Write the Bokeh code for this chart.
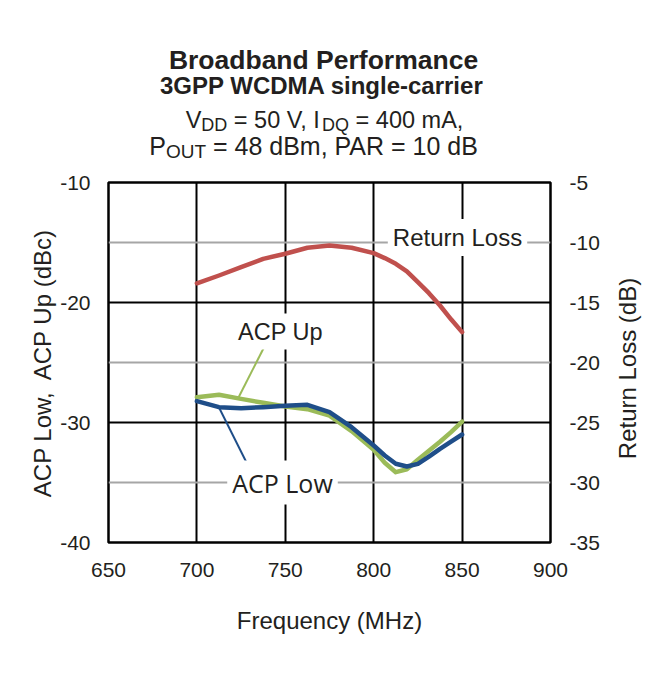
import math
from bokeh.plotting import figure
from bokeh.layouts import column, row
from bokeh.models import Range1d, LinearAxis, FixedTicker, Grid, Label
from bokeh.embed import file_html
from bokeh.resources import INLINE

# ---------------- data ----------------
freq = [700, 712.5, 725, 737.5, 750, 762.5, 775, 787.5, 800, 806.25, 812.5, 818.75,
        825, 831.25, 837.5, 843.75, 850]
return_loss = [-13.4, -12.75, -12.06, -11.36, -10.94, -10.44, -10.25, -10.44, -10.89, -11.3,
               -11.78, -12.4, -13.3, -14.22, -15.25, -16.4, -17.47]
acp_up = [-27.89, -27.69, -28.03, -28.36, -28.67, -28.89, -29.42, -30.72, -32.28, -33.35,
          -34.14, -33.9, -33.1, -32.35, -31.6, -30.8, -29.92]
acp_low = [-28.22, -28.72, -28.81, -28.72, -28.61, -28.53, -29.14, -30.39, -31.92, -32.75,
           -33.44, -33.67, -33.45, -32.85, -32.2, -31.6, -31.0]

x_ticks = [650, 700, 750, 800, 850, 900]
y_left_ticks = [-40, -30, -20, -10]
y_right_ticks = [-35, -30, -25, -20, -15, -10, -5]

RED = "#c0504d"
GREEN = "#9bbb59"
BLUE = "#1f4e89"
TXT = "#231f20"

W, H = 651, 675
TOP_H = 166                     # height of the title strip
RS_W = 45                       # width of the strip holding the right axis title
FL, FR, FT, FB = 108, 550, 182, 542   # plot frame on the page

def px2x(px):
    return 650 + (px - FL) / (FR - FL) * 250.0
def px2y(py):
    return -10 - (py - FT) / (FB - FT) * 30.0

# ---------------- title strip (same horizontal frame as the chart) ----------------
top = figure(width=W, height=TOP_H, x_range=Range1d(650, 900), y_range=Range1d(0, TOP_H),
             output_backend="svg", toolbar_location=None,
             min_border_left=FL, min_border_right=W - FR, min_border_top=0, min_border_bottom=0,
             x_axis_location=None, y_axis_location=None)
top.title = None
top.outline_line_color = None
top.grid.visible = False

REG = {' ': 278, '\u00a0': 278, ',': 278, '=': 584, '0': 556, '1': 556, '4': 556, '5': 556,
       '8': 556, 'A': 667, 'B': 667, 'D': 722, 'I': 278, 'O': 778, 'P': 667, 'Q': 778,
       'R': 722, 'T': 611, 'U': 722, 'V': 667, 'd': 556, 'm': 833}
MID = 0.3465   # (ascent - descent) / 2 for Liberation Sans: baseline lies this far below middle

def tw(s, size):
    return sum(REG[c] for c in s) * size / 1000.0

def title_line(text, cx, base, size, bold):
    top.add_layout(Label(x=px2x(cx), y=TOP_H - (base - MID * size), text=text,
                         text_align="center", text_baseline="middle",
                         text_font="Liberation Sans", text_font_size=f"{size}px",
                         text_font_style="bold" if bold else "normal", text_color=TXT))

def sub_line(pieces, cx, base, main, sub, drop):
    total = sum(tw(t, sub if s else main) for t, s in pieces)
    x = cx - total / 2.0
    for t, s in pieces:
        size = sub if s else main
        yb = base + (drop if s else 0)
        top.add_layout(Label(x=px2x(x), y=TOP_H - (yb - MID * size), text=t, text_align="left",
                             text_baseline="middle", text_font="Liberation Sans",
                             text_font_size=f"{size}px", text_color=TXT))
        x += tw(t, size)

title_line("Broadband Performance", 323, 68.3, 26.5, True)
title_line("3GPP WCDMA single-carrier", 321.5, 93.5, 24, True)
sub_line([("V", False), ("DD", True), ("\u00a0= 50 V, I", False), ("DQ", True),
          ("\u00a0= 400 mA,", False)], 324, 127.3, 23.5, 18, 3.4)
sub_line([("P", False), ("OUT", True), ("\u00a0= 48 dBm, PAR = 10 dB", False)],
         314, 154.5, 25, 19, 3.5)

# ---------------- main chart ----------------
MH = H - TOP_H
p = figure(width=W - RS_W, height=MH,
           x_range=Range1d(650, 900), y_range=Range1d(-40, -10),
           output_backend="svg", toolbar_location=None,
           min_border_left=FL, min_border_right=W - RS_W - FR,
           min_border_top=FT - TOP_H, min_border_bottom=H - FB)
p.title = None
p.extra_y_ranges = {"rl": Range1d(-35, -5)}
p.background_fill_color = "white"
p.border_fill_color = "white"
p.outline_line_color = "black"
p.outline_line_width = 2.5

def style_axis(ax, standoff):
    ax.axis_line_color = None
    ax.major_tick_line_color = None
    ax.minor_tick_line_color = None
    ax.major_tick_in = 0
    ax.major_tick_out = 0
    ax.minor_tick_in = 0
    ax.minor_tick_out = 0
    ax.major_label_standoff = standoff
    ax.major_label_text_font = "Liberation Sans"
    ax.major_label_text_font_size = "21px"
    ax.major_label_text_color = TXT
    ax.axis_label_text_font = "Liberation Sans"
    ax.axis_label_text_font_size = "24px"
    ax.axis_label_text_font_style = "normal"
    ax.axis_label_text_color = TXT

xa = p.xaxis[0]
style_axis(xa, 20)
xa.ticker = FixedTicker(ticks=x_ticks)
xa.major_label_overrides = {t: str(t) for t in x_ticks}
xa.axis_label = "Frequency (MHz)"
xa.axis_label_standoff = 27

ya = p.yaxis[0]
style_axis(ya, 18)
ya.ticker = FixedTicker(ticks=y_left_ticks)
ya.major_label_overrides = {t: str(t) for t in y_left_ticks}
ya.axis_label = "ACP Low,\u00a0 ACP Up (dBc)"
ya.axis_label_standoff = 1

rax = LinearAxis(y_range_name="rl", ticker=FixedTicker(ticks=y_right_ticks))
style_axis(rax, 19)
rax.major_label_overrides = {t: str(t) for t in y_right_ticks}
p.add_layout(rax, "right")

# grids
p.xgrid.ticker = FixedTicker(ticks=[700, 750, 800, 850])
p.xgrid.grid_line_color = "black"
p.xgrid.grid_line_width = 2
p.ygrid.ticker = FixedTicker(ticks=[-20, -30])
p.ygrid.grid_line_color = "black"
p.ygrid.grid_line_width = 2
p.add_layout(Grid(dimension=1, ticker=FixedTicker(ticks=[-15, -25, -35]),
                  grid_line_color="#a6a6a6", grid_line_width=2))

# leader lines for curve labels
p.segment(x0=[px2x(265)], y0=[px2y(344)], x1=[px2x(238)], y1=[px2y(397)],
          line_color=GREEN, line_width=2)
p.segment(x0=[px2x(218)], y0=[px2y(406)], x1=[px2x(246)], y1=[px2y(462)],
          line_color=BLUE, line_width=2)

# curves
p.line(freq, return_loss, y_range_name="rl", line_color=RED, line_width=4.5,
       line_join="round", line_cap="round")
p.line(freq, acp_up, line_color=GREEN, line_width=4.5, line_join="round", line_cap="round")
p.line(freq, acp_low, line_color=BLUE, line_width=4.5, line_join="round", line_cap="round")

def boxed(text, cx, cy, font="Liberation Sans", size="24px"):
    p.add_layout(Label(x=px2x(cx), y=px2y(cy), text=text, text_align="center",
                       text_baseline="middle", text_font=font, text_font_size=size,
                       text_color=TXT, background_fill_color="white",
                       background_fill_alpha=1.0, padding=5))

boxed("Return Loss", 457, 237)
boxed("ACP Up", 280, 331, size="23.5px")
boxed("ACP Low", 282, 482, font="Open Sans", size="25px")

# ---------------- strip with the right axis title ----------------
RS_X0 = W - RS_W
rs = figure(width=RS_W, height=MH, x_range=Range1d(0, RS_W), y_range=Range1d(-40, -10),
            output_backend="svg", toolbar_location=None,
            min_border_left=0, min_border_right=0,
            min_border_top=FT - TOP_H, min_border_bottom=H - FB,
            x_axis_location=None, y_axis_location=None)
rs.title = None
rs.outline_line_color = None
rs.grid.visible = False
rs.add_layout(Label(x=627 - RS_X0, y=px2y(368), text="Return Loss (dB)", angle=math.pi / 2,
                    text_align="center", text_baseline="middle", text_font="Liberation Sans",
                    text_font_size="24px", text_color=TXT))

layout = column(top, row(p, rs, spacing=0), spacing=0)
open("out.html", "w").write(file_html(layout, INLINE))
